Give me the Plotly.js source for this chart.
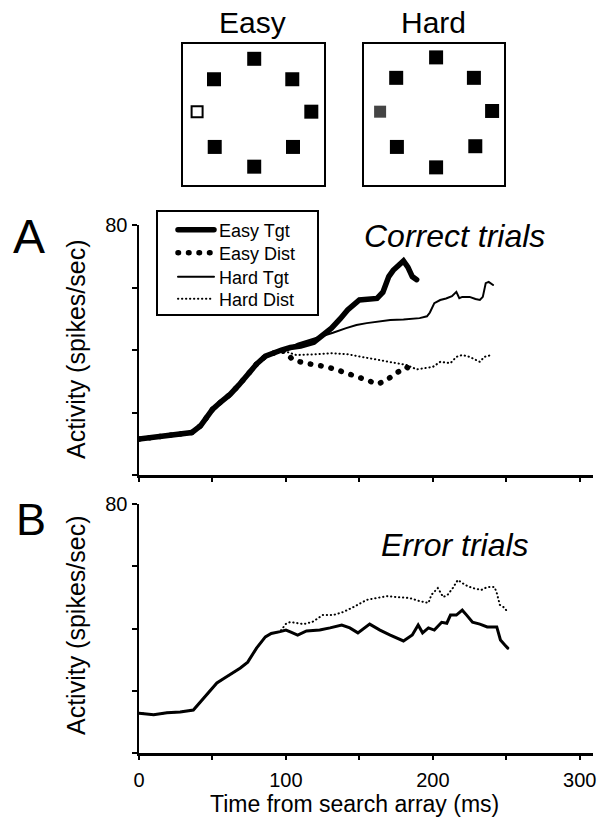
<!DOCTYPE html>
<html>
<head>
<meta charset="utf-8">
<script src="https://cdn.plot.ly/plotly-3.0.1.min.js"></script>
<style>
  html, body { margin: 0; padding: 0; background: #fff; }
  #chart { width: 602px; height: 822px; }
  #chart path.js-line { stroke-linecap: round; }
</style>
</head>
<body>
<div id="chart"></div>
<script>
// ---------- Data ----------
// Panel A (correct trials): shared rise before the curves split
const tBaseA = [0, 10, 20, 30, 36, 42, 50, 56, 62, 68, 74, 80, 86, 92, 97];
const vBaseA = [11.5, 12.0, 12.4, 12.9, 13.6, 15.8, 21.0, 23.5, 25.8, 28.8, 32.4, 35.5, 38.0, 39.3, 40.0];

const tEasyTgt = [103, 110, 119, 125, 131, 137, 142, 150, 157, 162, 166, 170, 173, 176, 180, 183, 186, 189];
const vEasyTgt = [40.8, 41.3, 42.5, 44.5, 47, 50, 52.8, 56, 56.3, 56.5, 58.5, 63.5, 65.5, 67, 68.5, 66.5, 63.5, 62.5];

const tEasyDist = [100, 105, 113, 121, 128, 135, 142, 149, 155, 162, 168, 173, 178, 182, 186, 188];
const vEasyDist = [39, 36.8, 35.8, 35.2, 34.6, 33.6, 32.6, 31.4, 30.4, 29.1, 30.1, 32, 33.6, 34.6, 33.5, 33];

const tHardTgt = [103, 108, 115, 123, 132, 141, 148, 155, 163, 171, 180, 191, 196, 198, 201, 205, 209, 213, 216, 218, 220, 225, 229, 232, 234, 236, 238, 241];
const vHardTgt = [40.8, 42.0, 43.0, 44.3, 45.5, 47, 48, 48.6, 49.2, 49.6, 49.8, 50.2, 50.8, 52, 55, 56, 56.5, 57.2, 58.6, 56.6, 57, 57, 56.3, 56, 57, 61.4, 61.8, 60.8];

const tHardDist = [100, 107, 119, 131, 141, 152, 164, 175, 182, 189, 196, 200, 205, 212, 216, 220, 225, 232, 235, 240];
const vHardDist = [39.5, 38.4, 38.6, 39, 38.7, 37.8, 36.8, 35.8, 35.2, 33.8, 34.2, 34.6, 36.2, 35.8, 37.8, 38.4, 37.8, 36.2, 37.8, 38.4];

// Panel B (error trials)
const tBaseB = [0, 10, 19, 28, 37, 43, 48, 53, 58, 64, 69, 74, 80, 86, 90, 96];
const vBaseB = [12.8, 12.3, 12.9, 13.2, 13.8, 17.0, 19.8, 22.5, 24.0, 25.7, 27.3, 29.2, 33.7, 37.3, 38.4, 39.0];

const tErrTgt = [100, 103, 108, 114, 123, 130, 138, 143.5, 149, 157, 164, 171, 180, 186, 190, 193, 197, 201, 206, 209.5, 212, 216, 220, 223, 227, 232, 237, 243.5, 246, 249, 251];
const vErrTgt = [39.5, 38.9, 37.9, 39.2, 39.5, 40.2, 41.1, 40.2, 38.6, 41.4, 39.5, 37.9, 36, 37.9, 41.1, 38.6, 40.2, 39.5, 42, 41.7, 44.3, 44.3, 45.9, 44.3, 42, 41.4, 40.5, 40.5, 36.3, 34.7, 33.7];

const tErrDist = [100, 103, 112, 118, 125, 132, 139, 146, 155, 162, 169, 175.5, 184, 191, 197, 199, 203.4, 207, 210, 213.6, 217, 222, 227, 233, 237, 242, 243.5, 245.6, 249, 251];
const vErrDist = [41.5, 42.1, 41.4, 42.1, 44.3, 44.3, 45.3, 46.9, 49.2, 49.8, 50.4, 50.1, 49.8, 48.8, 48.2, 50.8, 53, 50.1, 50.8, 53, 55.6, 54, 53, 52.4, 53.3, 53.3, 51.4, 47.6, 46.6, 45];

// Axis ticks
const xTickVals = [0, 50, 100, 150, 200, 250, 300];
const xTickText = ['0', '', '100', '', '200', '', '300'];
const yTickVals = [0, 20, 40, 60, 80];
const yTickText = ['', '', '', '', '80'];

// Search array icons (item positions within each box, box spans -1..1)
const easyItemX = [0.01, 0.55, 0.82, 0.56, 0.01, -0.55, -0.56];
const easyItemY = [0.79, 0.50, 0.04, -0.46, -0.74, -0.46, 0.50];
const easyTargetX = [-0.80];
const easyTargetY = [0.04];
const hardItemX = [0.03, 0.57, 0.83, 0.59, 0.03, -0.53, -0.54];
const hardItemY = [0.81, 0.52, 0.05, -0.45, -0.75, -0.46, 0.52];
const hardTargetX = [-0.77];
const hardTargetY = [0.04];

// ---------- Layout helpers (pixel -> paper) ----------
const W = 602, H = 822;
const M = {l: 139, r: 9, t: 5, b: 69};
const PW = W - M.l - M.r, PH = H - M.t - M.b;
const px = x => (x - M.l) / PW;
const py = y => (H - M.b - y) / PH;

const FONT = 'Liberation Sans, Arial, Helvetica, sans-serif';

const traces = [
  {x: tBaseA.concat(tHardDist), y: vBaseA.concat(vHardDist), xaxis: 'x2', yaxis: 'y2', mode: 'lines',
   name: 'Hard Dist', legend: 'legend4', line: {color: '#000', width: 2, dash: '0.3px,3.7px'}},
  {x: tBaseA.concat(tHardTgt), y: vBaseA.concat(vHardTgt), xaxis: 'x2', yaxis: 'y2', mode: 'lines',
   name: 'Hard Tgt', legend: 'legend3', line: {color: '#000', width: 2}},
  {x: tBaseA.concat(tEasyDist), y: vBaseA.concat(vEasyDist), xaxis: 'x2', yaxis: 'y2', mode: 'lines',
   name: 'Easy Dist', legend: 'legend2', line: {color: '#000', width: 5.5, dash: '0.5px,10px'}},
  {x: tBaseA.concat(tEasyTgt), y: vBaseA.concat(vEasyTgt), xaxis: 'x2', yaxis: 'y2', mode: 'lines',
   name: 'Easy Tgt', legend: 'legend', line: {color: '#000', width: 5.5}},

  {x: tBaseB.concat(tErrDist), y: vBaseB.concat(vErrDist), xaxis: 'x', yaxis: 'y', mode: 'lines',
   name: 'Error Dist', showlegend: false, line: {color: '#000', width: 2, dash: '0.3px,3.7px'}},
  {x: tBaseB.concat(tErrTgt), y: vBaseB.concat(vErrTgt), xaxis: 'x', yaxis: 'y', mode: 'lines',
   name: 'Error Tgt', showlegend: false, line: {color: '#000', width: 3}},

  {x: easyItemX, y: easyItemY, xaxis: 'x3', yaxis: 'y3', mode: 'markers', showlegend: false, hoverinfo: 'skip',
   marker: {symbol: 'square', size: 14, color: '#000'}},
  {x: easyTargetX, y: easyTargetY, xaxis: 'x3', yaxis: 'y3', mode: 'markers', showlegend: false, hoverinfo: 'skip',
   marker: {symbol: 'square-open', size: 11, color: '#000', line: {width: 2, color: '#000'}}},
  {x: hardItemX, y: hardItemY, xaxis: 'x4', yaxis: 'y4', mode: 'markers', showlegend: false, hoverinfo: 'skip',
   marker: {symbol: 'square', size: 14, color: '#000'}},
  {x: hardTargetX, y: hardTargetY, xaxis: 'x4', yaxis: 'y4', mode: 'markers', showlegend: false, hoverinfo: 'skip',
   marker: {symbol: 'square', size: 12, color: '#444'}}
];

const xBase = {
  range: [0, 309], showline: true, linecolor: '#000', linewidth: 2.5,
  ticks: 'outside', ticklen: 4, tickwidth: 2, tickcolor: '#000',
  tickvals: xTickVals, ticktext: xTickText, showgrid: false, zeroline: false,
  ticklabelstandoff: 3,
  tickfont: {family: FONT, size: 20, color: '#000'}
};
const yBase = {
  range: [0, 80], showline: true, linecolor: '#000', linewidth: 2.5,
  ticks: 'outside', ticklen: 5, tickwidth: 2, tickcolor: '#000',
  tickvals: yTickVals, ticktext: yTickText, showgrid: false, zeroline: false,
  tickfont: {family: FONT, size: 20, color: '#000'}
};
const boxAxis = {range: [-1, 1], showline: true, mirror: true, linecolor: '#000', linewidth: 2,
  showticklabels: false, ticks: '', showgrid: false, zeroline: false, fixedrange: true};

const legendRow = y => ({
  x: px(173), y: py(y), xanchor: 'left', yanchor: 'middle',
  borderwidth: 0, bgcolor: 'rgba(0,0,0,0)',
  font: {family: FONT, size: 18, color: '#000'},
  itemwidth: 36
});

const layout = {
  width: W, height: H,
  margin: M,
  paper_bgcolor: '#fff', plot_bgcolor: 'rgba(0,0,0,0)',
  font: {family: FONT, color: '#000'},
  showlegend: true,
  legend: legendRow(230),
  legend2: legendRow(253),
  legend3: legendRow(277),
  legend4: legendRow(299),
  shapes: [
    {type: 'rect', xref: 'paper', yref: 'paper', x0: px(157), x1: px(318), y0: py(315), y1: py(211),
     line: {color: '#000', width: 2}, fillcolor: 'rgba(0,0,0,0)'}
  ],
  xaxis: Object.assign({}, xBase, {anchor: 'y', domain: [0, 1]}),
  yaxis: Object.assign({}, yBase, {anchor: 'x', domain: [0, py(504)]}),
  xaxis2: Object.assign({}, xBase, {anchor: 'y2', domain: [0, 1], showticklabels: false}),
  yaxis2: Object.assign({}, yBase, {anchor: 'x2', domain: [py(475), py(225)]}),
  xaxis3: Object.assign({}, boxAxis, {anchor: 'y3', domain: [px(183), px(324)]}),
  yaxis3: Object.assign({}, boxAxis, {anchor: 'x3', domain: [py(185), py(44)]}),
  xaxis4: Object.assign({}, boxAxis, {anchor: 'y4', domain: [px(364), px(504)]}),
  yaxis4: Object.assign({}, boxAxis, {anchor: 'x4', domain: [py(185), py(44)]}),
  annotations: [
    {text: 'Easy', xref: 'paper', yref: 'paper', x: px(252), y: py(23), xanchor: 'center', yanchor: 'middle',
     showarrow: false, font: {family: FONT, size: 30, color: '#000'}},
    {text: 'Hard', xref: 'paper', yref: 'paper', x: px(433), y: py(23), xanchor: 'center', yanchor: 'middle',
     showarrow: false, font: {family: FONT, size: 30, color: '#000'}},
    {text: 'A', xref: 'paper', yref: 'paper', x: px(29), y: py(236), xanchor: 'center', yanchor: 'middle',
     showarrow: false, font: {family: FONT, size: 48, color: '#000'}},
    {text: 'B', xref: 'paper', yref: 'paper', x: px(31), y: py(519), xanchor: 'center', yanchor: 'middle',
     showarrow: false, font: {family: FONT, size: 45, color: '#000'}},
    {text: 'Correct trials', xref: 'paper', yref: 'paper', x: px(362), y: py(236), xanchor: 'left', yanchor: 'middle',
     showarrow: false, font: {family: FONT, size: 32, color: '#000', style: 'italic'}},
    {text: 'Error trials', xref: 'paper', yref: 'paper', x: px(379), y: py(545), xanchor: 'left', yanchor: 'middle',
     showarrow: false, font: {family: FONT, size: 32, color: '#000', style: 'italic'}},
    {text: 'Activity (spikes/sec)', xref: 'paper', yref: 'paper', x: px(76), y: py(350), xanchor: 'center', yanchor: 'middle',
     textangle: -90, showarrow: false, font: {family: FONT, size: 25, color: '#000'}},
    {text: 'Activity (spikes/sec)', xref: 'paper', yref: 'paper', x: px(76), y: py(626), xanchor: 'center', yanchor: 'middle',
     textangle: -90, showarrow: false, font: {family: FONT, size: 25, color: '#000'}},
    {text: 'Time from search array (ms)', xref: 'paper', yref: 'paper', x: px(354), y: py(804), xanchor: 'center', yanchor: 'middle',
     showarrow: false, font: {family: FONT, size: 23, color: '#000'}}
  ]
};

Plotly.newPlot('chart', traces, layout, {staticPlot: true, displayModeBar: false});
</script>
</body>
</html>
